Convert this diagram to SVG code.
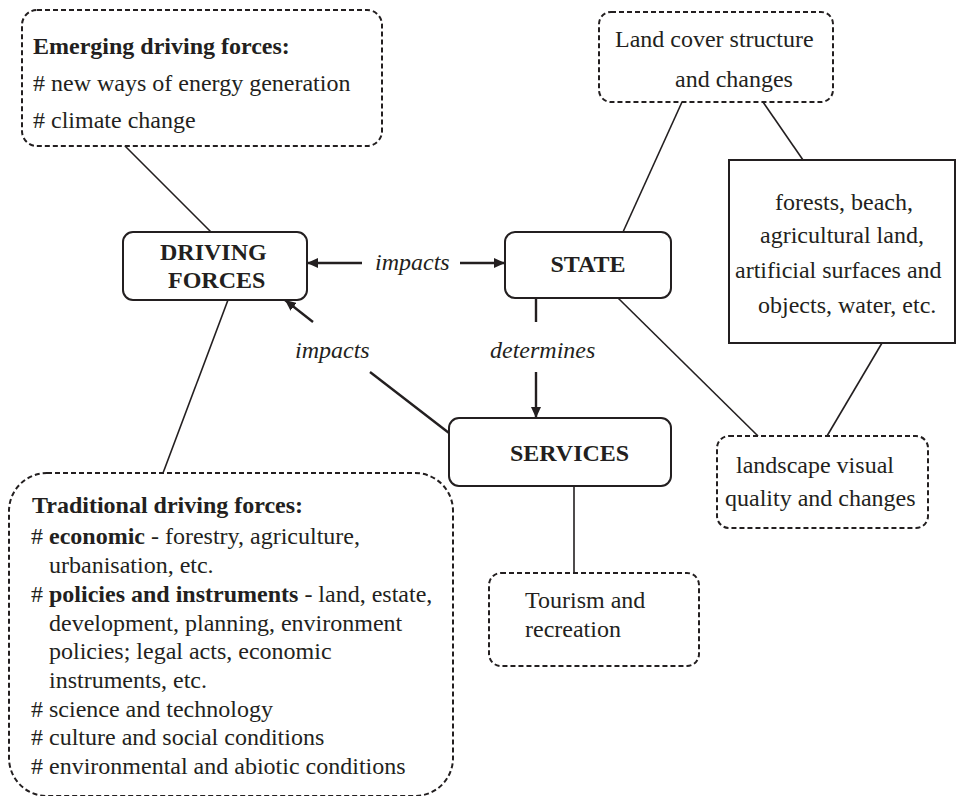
<svg xmlns="http://www.w3.org/2000/svg" width="956" height="796" viewBox="0 0 956 796">
<defs>
<style>
text{font-family:"Liberation Serif","Times New Roman",serif;font-size:24px;fill:#231f20}
.b{font-weight:bold}
.i{font-style:italic}
.dash{fill:#fff;stroke:#231f20;stroke-width:2;stroke-dasharray:5 3}
.solid{fill:#fff;stroke:#231f20;stroke-width:2}
.ln{stroke:#231f20;stroke-width:1.6;fill:none}
.ar{stroke:#231f20;stroke-width:2.4;fill:none}
</style>
<marker id="ah" markerUnits="userSpaceOnUse" markerWidth="12" markerHeight="10" refX="11" refY="5" orient="auto">
<path d="M0,0 L11,5 L0,10 Z" fill="#231f20"/>
</marker>
</defs>
<rect width="956" height="796" fill="#fff"/>
<g id="connectors">
<line class="ln" x1="125" y1="146" x2="211" y2="232"/>
<line class="ln" x1="228" y1="300" x2="163" y2="473"/>
<line class="ln" x1="682" y1="102" x2="623" y2="232"/>
<line class="ln" x1="763" y1="102" x2="803" y2="160"/>
<line class="ln" x1="618" y1="298" x2="758" y2="436"/>
<line class="ln" x1="882" y1="343" x2="827" y2="436"/>
<line class="ln" x1="574" y1="486" x2="574" y2="573"/>
<line class="ar" x1="362" y1="263" x2="307" y2="263" marker-end="url(#ah)"/>
<line class="ar" x1="460" y1="263" x2="505" y2="263" marker-end="url(#ah)"/>
<line class="ar" x1="536" y1="298" x2="536" y2="322"/>
<line class="ar" x1="536" y1="372" x2="536" y2="418" marker-end="url(#ah)"/>
<line class="ar" x1="313" y1="322" x2="285" y2="300" marker-end="url(#ah)"/>
<line class="ar" x1="370" y1="372" x2="449" y2="433"/>
<text class="i" x="375" y="270">impacts</text>
<text class="i" x="295" y="358">impacts</text>
<text class="i" x="490" y="358">determines</text>
</g>
<g id="emerging">
<rect class="dash" x="22" y="10" width="360" height="136" rx="15"/>
<text class="b" x="33" y="54">Emerging driving forces:</text>
<text x="33" y="91"># new ways of energy generation</text>
<text x="33" y="128"># climate change</text>
</g>
<g id="driving-forces">
<rect class="solid" x="123" y="232" width="184" height="68" rx="10"/>
<text class="b" x="160" y="260">DRIVING</text>
<text class="b" x="168" y="288">FORCES</text>
</g>
<g id="state">
<rect class="solid" x="505" y="232" width="166" height="66" rx="10"/>
<text class="b" x="588" y="272" text-anchor="middle">STATE</text>
</g>
<g id="services">
<rect class="solid" x="449" y="418" width="222" height="68" rx="10"/>
<text class="b" x="510" y="461">SERVICES</text>
</g>
<g id="land-cover">
<rect class="dash" x="599" y="12" width="234" height="90" rx="12"/>
<text x="615" y="47">Land cover structure</text>
<text x="675" y="87">and changes</text>
</g>
<g id="land-types">
<rect class="solid" x="729" y="160" width="226" height="183"/>
<text x="775" y="210">forests, beach,</text>
<text x="760" y="243">agricultural land,</text>
<text x="735" y="278">artificial surfaces and</text>
<text x="758" y="313">objects, water, etc.</text>
</g>
<g id="landscape">
<rect class="dash" x="717" y="436" width="211" height="92" rx="12"/>
<text x="736" y="473">landscape visual</text>
<text x="725" y="506">quality and changes</text>
</g>
<g id="tourism">
<rect class="dash" x="489" y="573" width="210" height="93" rx="12"/>
<text x="525" y="608">Tourism and</text>
<text x="525" y="637">recreation</text>
</g>
<g id="traditional">
<rect class="dash" x="9" y="473" width="444" height="323" rx="38"/>
<text class="b" x="32" y="513">Traditional driving forces:</text>
<text x="31" y="544"># <tspan class="b">economic</tspan> - forestry, agriculture,</text>
<text x="49" y="573">urbanisation, etc.</text>
<text x="31" y="602"># <tspan class="b">policies and instruments</tspan> - land, estate,</text>
<text x="49" y="631">development, planning, environment</text>
<text x="49" y="659">policies; legal acts, economic</text>
<text x="49" y="688">instruments, etc.</text>
<text x="31" y="717"># science and technology</text>
<text x="31" y="745"># culture and social conditions</text>
<text x="31" y="774"># environmental and abiotic conditions</text>
</g>
</svg>
